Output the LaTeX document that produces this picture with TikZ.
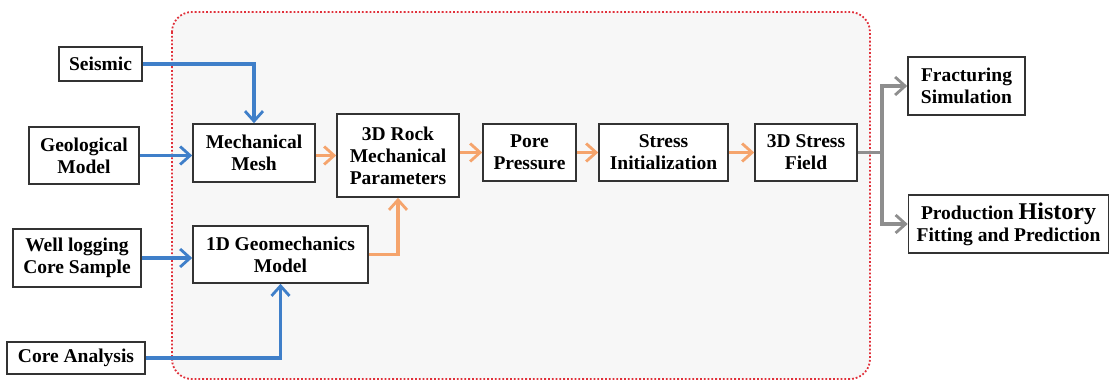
\documentclass[tikz,border=0pt]{standalone}
\usepackage{fontspec}
\setmainfont{Liberation Serif}
\usetikzlibrary{arrows.meta}

\definecolor{flowblue}{HTML}{3F7FC9}
\definecolor{floworange}{HTML}{F5A46C}
\definecolor{flowgray}{HTML}{8E8E8E}
\definecolor{panelred}{HTML}{E0303A}

\tikzset{
 box/.style={draw=black!80,line width=0.8pt,fill=white,align=center,inner sep=0pt,
  font=\fontsize{9.75}{11}\selectfont\bfseries},
 inflow/.style={draw=flowblue,line width=1.6pt,-{Straight Barb[length=5pt,width=9pt,line width=1.4pt]}},
 mainflow/.style={draw=floworange,line width=1.6pt,-{Straight Barb[length=5pt,width=9pt,line width=1.4pt]}},
 outflow/.style={draw=flowgray,line width=1.6pt,-{Straight Barb[length=5pt,width=9pt,line width=1.4pt]}},
}

\begin{document}
\begin{tikzpicture}[x=0.5pt,y=-0.5pt]
 \useasboundingbox (0,0) rectangle (1110,381); %全体
 \draw[panelred,densely dotted,line width=0.9pt,fill=black!3,rounded corners=10pt] (172,12) rectangle (870,379); %枠

 \node[box,minimum width=41.5pt,minimum height=17pt] (seis) at (100.5,64) {Seismic}; %入力
 \node[box,minimum width=55pt,minimum height=28.5pt] (geo) at (84,155.5) {Geological\\Model};
 \node[box,minimum width=64pt,minimum height=29pt] (well) at (77,258) {Well logging\\Core Sample};
 \node[box,minimum width=69pt,minimum height=16pt] (core) at (76,358) {Core Analysis};

 \node[box,minimum width=61pt,minimum height=29pt] (mesh) at (254,153) {Mechanical\\Mesh}; %処理
 \node[box,minimum width=61pt,minimum height=41.5pt] (rock) at (398,155.5) {3D Rock\\Mechanical\\Parameters};
 \node[box,minimum width=87.5pt,minimum height=28.5pt] (oned) at (280.5,254.5) {1D Geomechanics\\Model};
 \node[box,minimum width=46.5pt,minimum height=28.5pt] (pore) at (529.5,152.5) {Pore\\Pressure};
 \node[box,minimum width=64.5pt,minimum height=28.5pt] (init) at (663.5,152.5) {Stress\\Initialization};
 \node[box,minimum width=51pt,minimum height=28.5pt] (field) at (806,152.5) {3D Stress\\Field};

 \node[box,minimum width=58.5pt,minimum height=29pt] (frac) at (966.5,86) {Fracturing\\Simulation}; %出力
 \node[box,minimum width=100pt,minimum height=29pt] (prod) at (1008.5,224) {Production {\fontsize{12}{11}\selectfont History}\\Fitting and Prediction};

 \draw[inflow] (seis.east) -| (mesh.north);
 \draw[inflow] (geo.east) -- (geo.east -| mesh.west);
 \draw[inflow] (well.east) -- (well.east -| oned.west);
 \draw[inflow] (core.east) -| (oned.south);

 \draw[mainflow] (rock.west -| mesh.east) -- (rock.west);
 \draw[mainflow] (oned.east) -| (rock.south);
 \draw[mainflow] (rock.east |- pore.west) -- (pore.west);
 \draw[mainflow] (pore.east) -- (init.west);
 \draw[mainflow] (init.east) -- (field.west);

 \coordinate (split) at (882,152.5); %分岐
 \draw[flowgray,line width=1.6pt] (field.east) -- (split);
 \draw[outflow] (split) |- (frac.west);
 \draw[outflow] (split) |- (prod.west);
\end{tikzpicture}
\end{document}
